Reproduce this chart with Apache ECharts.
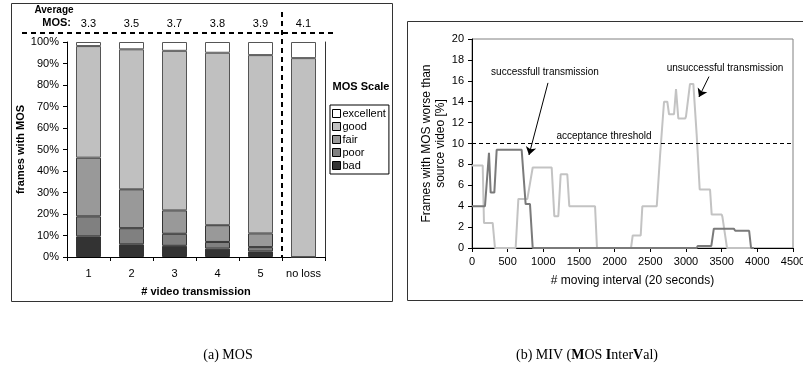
<!DOCTYPE html>
<html><head><meta charset="utf-8">
<script src="https://cdn.jsdelivr.net/npm/echarts@6/dist/echarts.min.js"></script>
<style>html,body{margin:0;padding:0;background:#fff}#c{width:803px;height:371px}</style>
</head><body><div id="c"></div>
<script>
// ---- Left chart data (MOS distribution, % of frames) ----
const categories = ['1', '2', '3', '4', '5', 'no loss'];
const averageMos = ['3.3', '3.5', '3.7', '3.8', '3.9', '4.1'];
const badValues = [9.6, 5.9, 5.2, 3.9, 2.6, 0];
const poorValues = [9.3, 7.5, 5.6, 3.1, 2.0, 0];
const fairValues = [27.3, 18.1, 10.9, 7.8, 6.4, 0];
const goodValues = [51.9, 65.1, 74.2, 80.2, 82.9, 92.5];
const excellentValues = [1.9, 3.4, 4.1, 5.0, 6.1, 7.5];
const yTicksLeft = { min: 0, max: 100, interval: 10 };

// ---- Right chart data (MIV) [moving interval, % frames] ----
const successfulLine = [[0,4],[182,4],[238,9.1],[262,5.3],[313,5.3],[346,9.4],[696,9.4],[752,4.2],[813,4.2],[851,0],[3150,0],[3165,0.2],[3355,0.2],[3390,1.85],[3670,1.85],[3690,1.65],[3885,1.65],[3912,0],[3950,0]];
const unsuccessfulLine = [[0,7.9],[150,7.9],[168,2.4],[290,2.4],[322,0],[612,0],[650,4.7],[776,4.7],[851,7.7],[1117,7.7],[1154,3.05],[1210,3.05],[1243,7.05],[1336,7.05],[1364,4.0],[1725,4.0],[1752,0],[2229,0],[2253,1.2],[2365,1.2],[2388,4.0],[2590,4.0],[2636,8.8],[2659,8.8],[2692,14.0],[2738,14.0],[2762,12.8],[2832,12.8],[2860,15.2],[2892,12.4],[2990,12.4],[3000,12.6],[3024,12.6],[3056,15.7],[3103,15.7],[3150,10.8],[3173,10.8],[3192,5.6],[3337,5.6],[3360,3.2],[3500,3.2],[3510,3.0],[3537,3.0],[3575,0],[3950,0]];
const threshold = 10;
const successArrow = [[1065, 15.8], [799, 8.9]];
const failArrow = [[3322, 16.4], [3182, 14.45]];

const F = 'Liberation Sans, Arial, sans-serif';
const chart = echarts.init(document.getElementById('c'), null, { renderer: 'canvas' });

function barSeries(name, data, color, borderColor) {
  return {
    name, type: 'bar', stack: 'mos', xAxisIndex: 0, yAxisIndex: 0, data,
    barWidth: 25,
    itemStyle: { color, borderColor: borderColor || '#333', borderWidth: 1 },
    emphasis: { disabled: true }
  };
}

const option = {
  animation: false,
  backgroundColor: '#fff',
  textStyle: { fontFamily: F },
  grid: [
    { left: 67, top: 42, width: 258, height: 215, containLabel: false, outerBoundsMode: 'none' },
    { left: 472, top: 39, width: 321, height: 209, containLabel: false, outerBoundsMode: 'none',
      show: true, borderColor: '#808080', borderWidth: 1 }
  ],
  legend: {
    data: ['excellent', 'good', 'fair', 'poor', 'bad'],
    orient: 'vertical', left: 330, top: 105,
    itemWidth: 8, itemHeight: 8, itemGap: 2, padding: [3, 3, 3, 2],
    icon: 'rect', borderColor: '#000', borderWidth: 1,
    selectedMode: false,
    itemStyle: { borderColor: '#000', borderWidth: 1 },
    textStyle: { fontSize: 11, color: '#000', fontFamily: F, padding: [0, 0, 0, -3] }
  },
  xAxis: [
    {
      gridIndex: 0, type: 'category', data: categories,
      axisLine: { lineStyle: { color: '#000', width: 1 } },
      axisTick: { show: true, length: 4, alignWithLabel: false, interval: 0, lineStyle: { color: '#000' } },
      axisLabel: { color: '#000', fontSize: 11, margin: 11, fontFamily: F, interval: 0, hideOverlap: false },
      name: '# video transmission', nameLocation: 'middle', nameGap: 29,
      nameTextStyle: { fontWeight: 'bold', fontSize: 11, color: '#000', fontFamily: F }
    },
    {
      gridIndex: 0, type: 'category', data: averageMos, position: 'top',
      axisLine: { show: false }, axisTick: { show: false },
      axisLabel: { color: '#000', fontSize: 11, margin: 13, fontFamily: F, interval: 0, hideOverlap: false }
    },
    {
      gridIndex: 1, type: 'value', min: 0, max: 4500, interval: 500,
      axisLine: { lineStyle: { color: '#000', width: 1 } },
      axisTick: { show: true, length: 4, lineStyle: { color: '#000' } },
      axisLabel: { color: '#000', fontSize: 11, margin: 8, fontFamily: F, showMaxLabel: true, hideOverlap: false,
        formatter: v => String(v) },
      splitLine: { show: false },
      name: '# moving interval (20 seconds)', nameLocation: 'middle', nameGap: 27,
      nameTextStyle: { fontSize: 12, color: '#000', fontFamily: F }
    }
  ],
  yAxis: [
    {
      gridIndex: 0, type: 'value', min: yTicksLeft.min, max: yTicksLeft.max, interval: yTicksLeft.interval,
      axisLine: { show: true, lineStyle: { color: '#000', width: 1 } },
      axisTick: { show: true, length: 4, lineStyle: { color: '#000' } },
      axisLabel: { color: '#000', fontSize: 11, margin: 8, formatter: '{value}%', fontFamily: F },
      splitLine: { show: false },
      name: 'frames with MOS', nameLocation: 'middle', nameGap: 38,
      nameTextStyle: { fontWeight: 'bold', fontSize: 11, color: '#000', fontFamily: F }
    },
    {
      gridIndex: 0, type: 'value', position: 'right', min: 0, max: 100,
      axisLine: { show: true, lineStyle: { color: '#333', width: 1 } },
      axisTick: { show: false }, axisLabel: { show: false }, splitLine: { show: false }
    },
    {
      gridIndex: 1, type: 'value', min: 0, max: 20, interval: 2,
      axisLine: { show: true, lineStyle: { color: '#000', width: 1 } },
      axisTick: { show: true, length: 4, lineStyle: { color: '#000' } },
      axisLabel: { color: '#000', fontSize: 11, margin: 8, fontFamily: F },
      splitLine: { show: false },
      name: 'Frames with MOS worse than\nsource video [%]', nameLocation: 'middle', nameGap: 21,
      nameTextStyle: { fontSize: 12, color: '#000', fontFamily: F, lineHeight: 14 }
    }
  ],
  series: [
    barSeries('bad', badValues, '#333333'),
    barSeries('poor', poorValues, '#808080'),
    barSeries('fair', fairValues, '#999999'),
    barSeries('good', goodValues, '#c0c0c0', '#555'),
    barSeries('excellent', excellentValues, '#ffffff', '#555'),
    {
      name: 'unsuccessful', type: 'line', xAxisIndex: 2, yAxisIndex: 2,
      data: unsuccessfulLine, showSymbol: false, symbol: 'none', clip: false,
      lineStyle: { color: '#c3c3c3', width: 2 }, z: 3,
      markLine: {
        silent: true, symbol: 'none', label: { show: false },
        lineStyle: { color: '#000', type: [4, 3], width: 1 },
        data: [{ yAxis: threshold }]
      }
    },
    {
      name: 'successful', type: 'line', xAxisIndex: 2, yAxisIndex: 2,
      data: successfulLine, showSymbol: false, symbol: 'none', clip: false,
      lineStyle: { color: '#7a7a7a', width: 2 }, z: 4,
      markLine: {
        silent: true, label: { show: false }, symbolSize: 8,
        lineStyle: { color: '#000', type: 'solid', width: 1 },
        data: [
          [{ coord: successArrow[0], symbol: 'none' }, { coord: successArrow[1], symbol: 'arrow' }],
          [{ coord: failArrow[0], symbol: 'none' }, { coord: failArrow[1], symbol: 'arrow' }]
        ]
      }
    }
  ],
  graphic: [
    { type: 'rect', shape: { x: 11.5, y: 3.5, width: 381, height: 298 }, style: { fill: 'none', stroke: '#333', lineWidth: 1 }, silent: true },
    { type: 'rect', shape: { x: 407.5, y: 21.5, width: 420, height: 279 }, style: { fill: 'none', stroke: '#333', lineWidth: 1 }, silent: true },
    { type: 'text', x: 54, y: 10, style: { text: 'Average', font: 'bold 10px ' + F, fill: '#000', textAlign: 'center', textVerticalAlign: 'middle' } },
    { type: 'text', x: 71, y: 23, style: { text: 'MOS:', font: 'bold 11px ' + F, fill: '#000', textAlign: 'right', textVerticalAlign: 'middle' } },
    { type: 'line', shape: { x1: 22, y1: 33, x2: 333, y2: 33 }, style: { stroke: '#000', lineWidth: 2, lineDash: [5, 4] }, silent: true },
    { type: 'line', shape: { x1: 282, y1: 12, x2: 282, y2: 257 }, style: { stroke: '#000', lineWidth: 2, lineDash: [5, 4] }, silent: true, z: 10 },
    { type: 'text', x: 361, y: 87, style: { text: 'MOS Scale', font: 'bold 11px ' + F, fill: '#000', textAlign: 'center', textVerticalAlign: 'middle' } },
    { type: 'text', x: 545, y: 72, style: { text: 'successfull transmission', font: '10px ' + F, fill: '#000', textAlign: 'center', textVerticalAlign: 'middle' } },
    { type: 'text', x: 725, y: 68, style: { text: 'unsuccessful transmission', font: '10px ' + F, fill: '#000', textAlign: 'center', textVerticalAlign: 'middle' } },
    { type: 'text', x: 604, y: 136, style: { text: 'acceptance threshold', font: '10px ' + F, fill: '#000', textAlign: 'center', textVerticalAlign: 'middle' } },
    { type: 'text', x: 228, y: 355, style: { text: '(a) MOS', font: '14px Liberation Serif, Times New Roman, serif', fill: '#000', textAlign: 'center', textVerticalAlign: 'middle' } },
    { type: 'text', x: 587, y: 355, style: {
        text: '(b) MIV ({b|M}OS {b|I}nter{b|V}al)',
        font: '14px Liberation Serif, Times New Roman, serif', fill: '#000', textAlign: 'center', textVerticalAlign: 'middle',
        rich: { b: { fontWeight: 'bold', fontSize: 14, fontFamily: 'Liberation Serif, Times New Roman, serif' } }
      } }
  ]
};
chart.setOption(option);
</script>
</body></html>
